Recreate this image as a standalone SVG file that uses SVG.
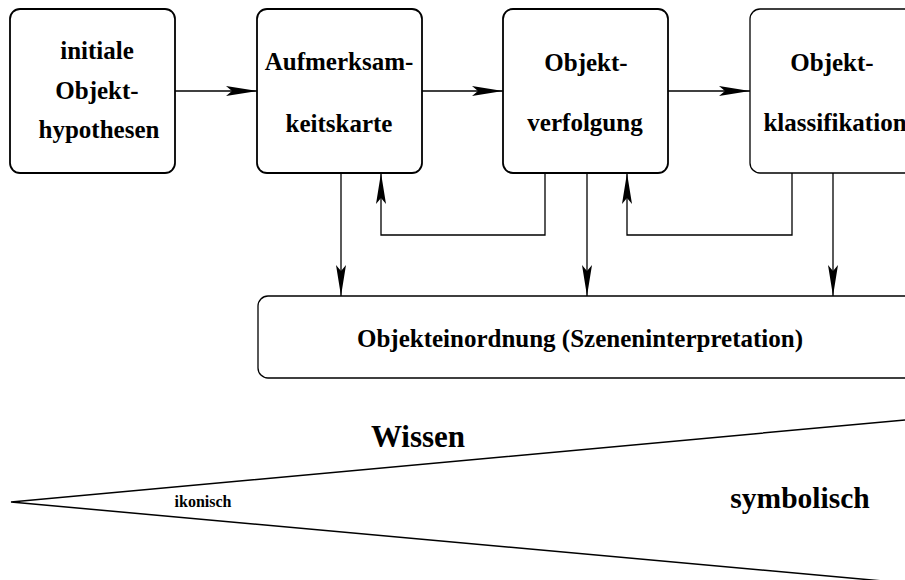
<svg xmlns="http://www.w3.org/2000/svg" width="905" height="580" viewBox="0 0 905 580">
<defs>
<style>
.box{fill:#fff;stroke:#000;stroke-width:1.8}
.thin{stroke-width:1.3}
.t{font-family:"Liberation Serif","Times New Roman",serif;font-weight:bold;font-size:25px;text-anchor:middle;fill:#000}
.c{fill:none;stroke:#000;stroke-width:1.3}
</style>
<marker id="ah" markerUnits="userSpaceOnUse" viewBox="-31 -6 32 12" refX="0" refY="0" markerWidth="32" markerHeight="12" orient="auto">
<path d="M0,0 L-31,-5 L-25,0 L-31,5 Z" fill="#000"/>
</marker>
</defs>
<rect width="905" height="580" fill="#fff"/>
<g id="connectors">
<line class="c" x1="175" y1="91" x2="257" y2="91" marker-end="url(#ah)"/>
<line class="c" x1="422" y1="91" x2="503" y2="91" marker-end="url(#ah)"/>
<line class="c" x1="668" y1="91" x2="750" y2="91" marker-end="url(#ah)"/>
<line class="c" x1="341" y1="173" x2="341" y2="296" marker-end="url(#ah)"/>
<line class="c" x1="587" y1="173" x2="587" y2="296" marker-end="url(#ah)"/>
<line class="c" x1="833" y1="173" x2="833" y2="296" marker-end="url(#ah)"/>
<polyline class="c" points="545,173 545,235 381,235 381,173" marker-end="url(#ah)"/>
<polyline class="c" points="792,173 792,235 627,235 627,173" marker-end="url(#ah)"/>
</g>
<g id="n1">
<rect class="box" x="10" y="9" width="165" height="164" rx="10"/>
<text class="t" x="97" y="59">initiale</text>
<text class="t" x="97" y="99">Objekt-</text>
<text class="t" x="99" y="138">hypothesen</text>
</g>
<g id="n2">
<rect class="box" x="257" y="9" width="165" height="164" rx="10"/>
<text class="t" x="339" y="70">Aufmerksam-</text>
<text class="t" x="339" y="132">keitskarte</text>
</g>
<g id="n3">
<rect class="box" x="503" y="9" width="165" height="164" rx="10"/>
<text class="t" x="586" y="71">Objekt-</text>
<text class="t" x="585" y="131">verfolgung</text>
</g>
<g id="n4">
<rect class="box thin" x="750" y="9" width="175" height="164" rx="10"/>
<text class="t" x="832" y="71">Objekt-</text>
<text class="t" x="835" y="131">klassifikation</text>
</g>
<g id="n5">
<rect class="box thin" x="258" y="296" width="670" height="82" rx="10"/>
<text class="t" x="580" y="347">Objekteinordnung (Szeneninterpretation)</text>
</g>
<g id="wedge">
<polyline points="905,420 11,502 905,583" fill="none" stroke="#000" stroke-width="1.5"/>
<text class="t" x="418" y="447" style="font-size:31px">Wissen</text>
<text class="t" x="203" y="507" style="font-size:16px">ikonisch</text>
<text class="t" x="800" y="508" style="font-size:29.5px">symbolisch</text>
</g>
</svg>
